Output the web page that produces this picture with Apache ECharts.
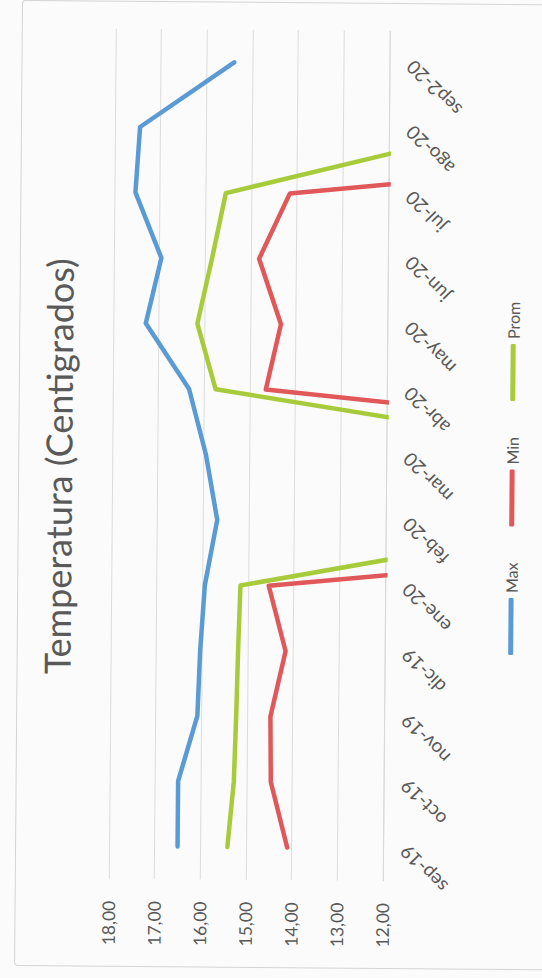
<!DOCTYPE html>
<html>
<head>
<meta charset="utf-8">
<script src="https://cdn.jsdelivr.net/npm/echarts@6/dist/echarts.min.js"></script>
<style>
  html, body { margin: 0; padding: 0; background: #fbfbfb; overflow: hidden; }
  body { width: 542px; height: 978px; position: relative; }
  /* The printed sheet sits very slightly askew. */
  #sheet {
    position: absolute; left: 0; top: 0; width: 542px; height: 978px;
    transform-origin: 271px 489px;
    transform: rotate(0.47deg);
  }
  /* The chart is laid out landscape and turned a quarter turn counter-clockwise. */
  #chart {
    position: absolute; left: 0; top: 0;
    width: 978px; height: 542px;
    transform-origin: 0 0;
    transform: translate(0, 978px) rotate(-90deg);
  }
  /* Chart-area frame */
  #frame {
    position: absolute; left: 10px; top: 18px; width: 966px; height: 560px;
    border: 1px solid #d4d4d4; border-radius: 4px; box-sizing: border-box;
    pointer-events: none;
  }
</style>
</head>
<body>
<div id="sheet">
  <div id="chart"></div>
</div>
<script>
// Months
const categories = ['sep-19', 'oct-19', 'nov-19', 'dic-19', 'ene-20', 'feb-20', 'mar-20',
                    'abr-20', 'may-20', 'jun-20', 'jul-20', 'ago-20', 'sep2-20'];
// Monthly temperatures (°C)
const maxTemp  = [16.50, 16.50, 16.09, 16.04, 15.95, 15.69, 15.95, 16.33, 17.29, 16.96, 17.54, 17.45, 15.40];
const minTemp  = [14.10, 14.47, 14.49, 14.17, 14.55, 0, 0, 14.65, 14.33, 14.82, 14.16, 0, 0];
const promTemp = [15.41, 15.28, 15.24, 15.21, 15.17, 7.40, 6.50, 15.75, 16.16, 15.85, 15.56, 9.80, 7.70];
// Value axis
const axisMin = 12, axisMax = 18, axisStep = 1;

const FONT = 'Lato, "Open Sans", sans-serif';
const TEXT = '#595959';

const host = document.getElementById('chart');
const frame = document.createElement('div');
frame.id = 'frame';

const chart = echarts.init(host, null, { renderer: 'svg' });
host.appendChild(frame);

function lineSeries(name, data, color) {
  return {
    name: name,
    type: 'line',
    data: data,
    symbol: 'none',
    clip: true,
    lineStyle: { color: color, width: 4.5, cap: 'round', join: 'round' },
    itemStyle: { color: color }
  };
}

chart.setOption({
  backgroundColor: 'transparent',
  animation: false,
  title: {
    text: 'Temperatura (Centigrados)',
    left: 505, top: 35, textAlign: 'center',
    textStyle: { fontFamily: FONT, fontSize: 36, fontWeight: 'normal', color: TEXT }
  },
  legend: {
    left: 320, top: 499,
    itemWidth: 57, itemHeight: 5, itemGap: 36,
    icon: 'roundRect',
    textStyle: { fontFamily: FONT, fontSize: 16, color: TEXT },
    data: ['Max', 'Min', 'Prom']
  },
  grid: { left: 98, right: 30, top: 112, bottom: 156, containLabel: false },
  xAxis: {
    type: 'category',
    data: categories,
    boundaryGap: true,
    axisLine: { show: true, lineStyle: { color: '#d9d9d9', width: 1 } },
    axisTick: { show: false },
    axisLabel: { rotate: 45, margin: 20, interval: 0, fontFamily: FONT, fontSize: 19, color: TEXT }
  },
  yAxis: {
    type: 'value',
    min: axisMin, max: axisMax, interval: axisStep,
    axisLine: { show: false },
    axisTick: { show: false },
    splitLine: { lineStyle: { color: '#dcdcdc', width: 1 } },
    axisLabel: {
      margin: 22, fontFamily: FONT, fontSize: 17.5, color: TEXT,
      formatter: v => v.toFixed(2).replace('.', ',')
    }
  },
  series: [
    lineSeries('Max', maxTemp, '#5B9BD5'),
    lineSeries('Min', minTemp, '#E0585A'),
    lineSeries('Prom', promTemp, '#A8CB3C')
  ]
});
</script>
</body>
</html>
